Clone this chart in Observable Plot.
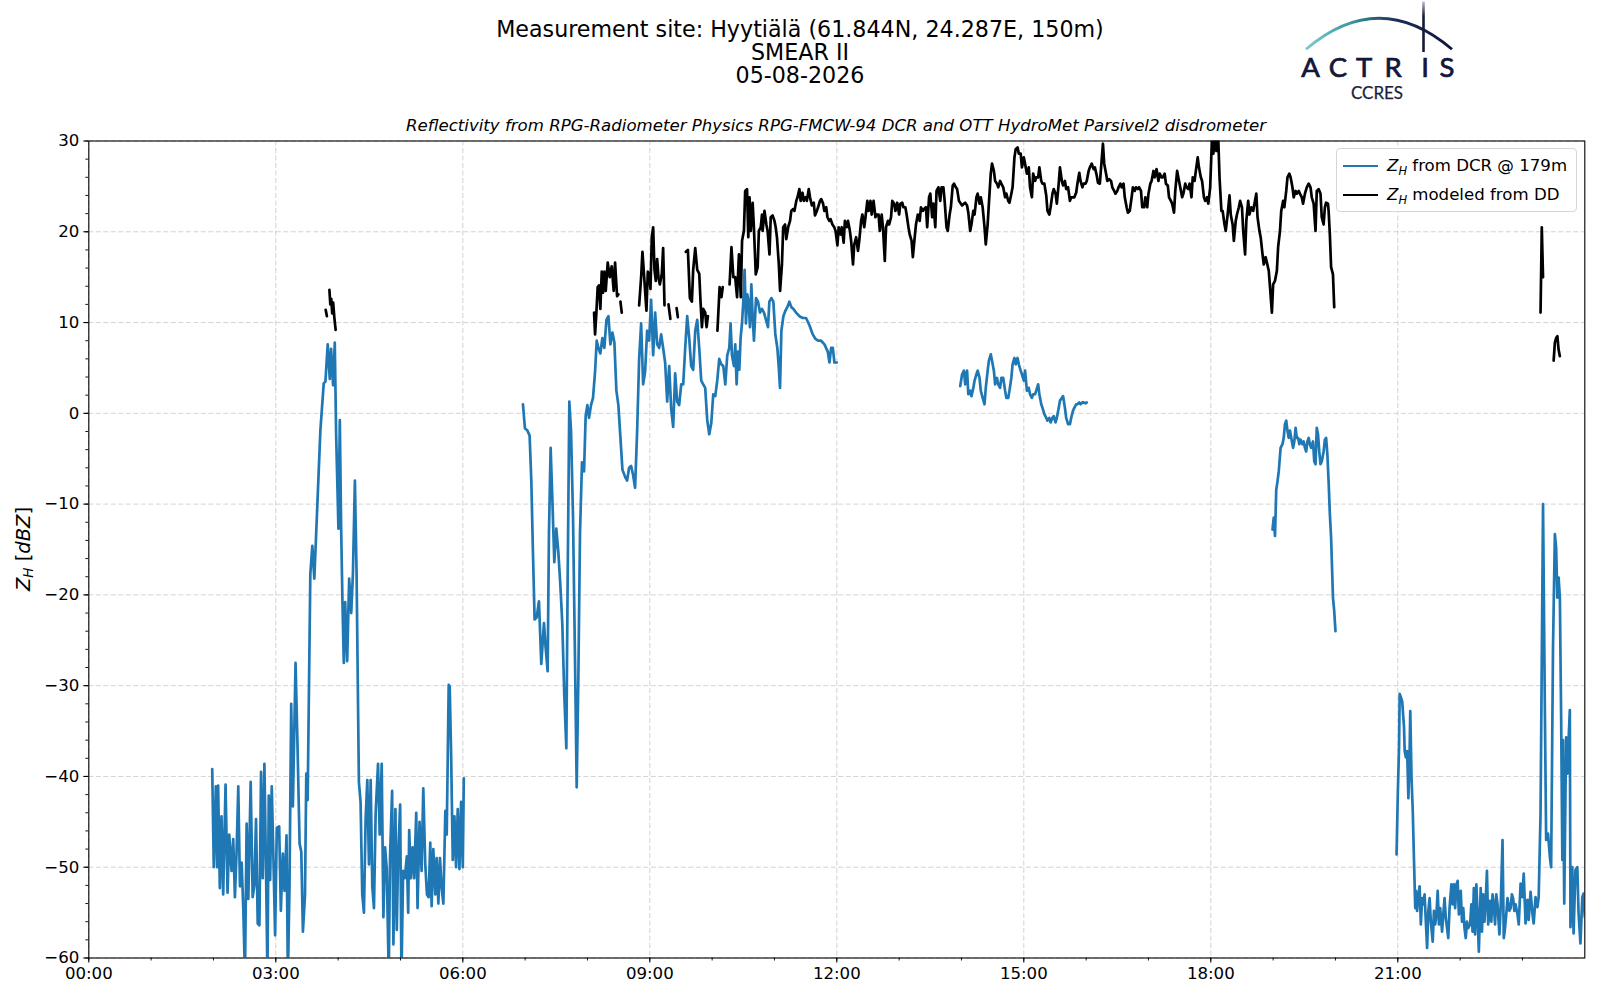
<!DOCTYPE html>
<html><head><meta charset="utf-8">
<script src="https://cdn.jsdelivr.net/npm/d3@7"></script>
<script src="https://cdn.jsdelivr.net/npm/@observablehq/plot@0.6"></script>
<style>
body{margin:0;background:#fff;font-family:"DejaVu Sans",sans-serif;}
#page{position:relative;width:1600px;height:1000px;overflow:hidden;background:#fff;}
#header{position:relative;width:1600px;height:130px;}
#title{position:absolute;left:0;top:17.5px;width:1600px;text-align:center;font-size:22.2px;line-height:23px;color:#000;white-space:nowrap;}
#sub{position:absolute;left:88px;width:1496px;text-align:center;font-style:italic;font-size:16.6px;line-height:19px;top:115.5px;white-space:nowrap;}
#logo{position:absolute;left:0;top:0;}
#legend{position:absolute;left:1336px;top:148px;width:241px;height:64px;box-sizing:border-box;border:1px solid #d6d6d6;border-radius:4px;background:rgba(255,255,255,0.85);font-size:16.6px;}
.lr{position:absolute;left:0;height:20px;width:240px;}
.ls{position:absolute;left:6px;top:8.8px;width:35px;height:2.6px;}
.lt{position:absolute;left:50px;top:0;line-height:20px;white-space:nowrap;}
.lt i{font-style:italic;}
.lt sub{font-style:italic;font-size:11.5px;vertical-align:-3.5px;line-height:0;}
</style>
</head><body>
<div id="page">
  <div id="header">
    <div id="title">Measurement site: Hyytiälä (61.844N, 24.287E, 150m)<br>SMEAR II<br>05-08-2026</div>
    <svg id="logo" width="1600" height="130">
      <defs>
        <linearGradient id="arcg" gradientUnits="userSpaceOnUse" x1="1306" y1="0" x2="1452" y2="0">
          <stop offset="0" stop-color="#7ccdc7"/>
          <stop offset="0.3" stop-color="#3a9aa2"/>
          <stop offset="0.62" stop-color="#1b2c57"/>
          <stop offset="1" stop-color="#111638"/>
        </linearGradient>
        <linearGradient id="vlg" gradientUnits="userSpaceOnUse" x1="0" y1="1" x2="0" y2="52">
          <stop offset="0" stop-color="#141938" stop-opacity="0.25"/>
          <stop offset="0.3" stop-color="#141938" stop-opacity="1"/>
          <stop offset="1" stop-color="#141938" stop-opacity="1"/>
        </linearGradient>
      </defs>
      <path d="M1306,49.3 Q1379,-12.7 1452,49.3" fill="none" stroke="url(#arcg)" stroke-width="2.8"/>
      <line x1="1423.5" y1="1.5" x2="1423.5" y2="52" stroke="url(#vlg)" stroke-width="2.6"/>
      <g font-family="Lato, 'Noto Sans', sans-serif" font-size="27.5" fill="#12163a" stroke="#12163a" stroke-width="0.7" text-anchor="middle">
        <text x="1310.5" y="76.7">A</text>
        <text x="1338" y="76.7">C</text>
        <text x="1364" y="76.7">T</text>
        <text x="1393" y="76.7">R</text>
        <text x="1425" y="76.7">I</text>
        <text x="1447" y="76.7">S</text>
      </g>
      <text x="1377" y="99.3" font-family="Lato, 'Noto Sans', sans-serif" font-size="17" fill="#1a1f3d" stroke="#1a1f3d" stroke-width="0.25" text-anchor="middle">CCRES</text>
    </svg>
    <div id="sub">Reflectivity from RPG-Radiometer Physics RPG-FMCW-94 DCR and OTT HydroMet Parsivel2 disdrometer</div>
  </div>
  <div id="chart"></div>
  <div id="legend">
    <div class="lr" style="top:7px"><div class="ls" style="background:#1f77b4"></div><div class="lt"><i>Z</i><sub>H</sub> from DCR @ 179m</div></div>
    <div class="lr" style="top:36px"><div class="ls" style="background:#000"></div><div class="lt"><i>Z</i><sub>H</sub> modeled from DD</div></div>
  </div>
</div>
<script>
// ---- tick definitions ----
const xMajor = [0, 3, 6, 9, 12, 15, 18, 21];
const xMinor = d3.range(0, 24, 1);
const yMajor = [-60, -50, -40, -30, -20, -10, 0, 10, 20, 30];
const yMinor = d3.range(-60, 31, 2);
const xTickLabels = ["00:00", "03:00", "06:00", "09:00", "12:00", "15:00", "18:00", "21:00"];

// ---- DCR reflectivity at 179 m: [hour, dBZ] ----
const dcrSeg1 = [[1.98,-39.2],[2.005,-50],[2.038,-41.1],[2.059,-50],[2.075,-41],[2.102,-52.3],[2.129,-44.4],[2.156,-53],[2.194,-40.9],[2.226,-52.8],[2.253,-46.4],[2.29,-50.4],[2.317,-46.9],[2.344,-53.3],[2.371,-48.3],[2.398,-41.1],[2.425,-52.1],[2.452,-49.5],[2.478,-54.5],[2.505,-62],[2.532,-45.2],[2.559,-53.5],[2.597,-40.6],[2.629,-53.3],[2.656,-52],[2.683,-44.7],[2.71,-56.2],[2.737,-56.4],[2.763,-39.5],[2.79,-51.2],[2.817,-38.6],[2.844,-50.7],[2.866,-62],[2.887,-42.1],[2.909,-51.4],[2.935,-41.1],[2.962,-49],[2.989,-57.5],[3.016,-45.7],[3.054,-45.5],[3.081,-54.8],[3.113,-48.5],[3.14,-52.6],[3.172,-46.5],[3.194,-62],[3.22,-52.1],[3.247,-32],[3.274,-43.3],[3.317,-27.5],[3.349,-36.8],[3.382,-47.4],[3.409,-48.3],[3.435,-57.1],[3.468,-53.1],[3.489,-39.7],[3.511,-42.6],[3.554,-17.7],[3.586,-14.6],[3.618,-18.2],[3.661,-11],[3.715,-1.9],[3.769,3.3],[3.796,3.5],[3.833,7.6],[3.866,3.8],[3.887,7.1],[3.919,3.1],[3.946,7.8],[3.968,-2.4],[4.005,-12.7],[4.027,-0.75],[4.048,-12.5],[4.07,-21],[4.091,-27.5],[4.113,-20.8],[4.145,-27.3],[4.177,-18.2],[4.21,-22],[4.237,-17.7],[4.269,-7.4],[4.296,-17.7],[4.333,-40.6],[4.36,-42.8],[4.387,-53],[4.414,-55],[4.441,-44.7],[4.468,-40.4],[4.495,-49.7],[4.522,-40.4],[4.548,-52.1],[4.575,-54.5],[4.602,-44],[4.64,-38.6],[4.667,-46.4],[4.699,-38.6],[4.726,-55.5],[4.753,-47.8],[4.78,-50.2],[4.812,-62],[4.833,-48.8],[4.866,-41.6],[4.887,-58.5],[4.919,-43.6],[4.941,-56.9],[4.962,-48.8],[4.995,-43.1],[5.016,-62],[5.043,-50.4],[5.07,-51.2],[5.102,-48.8],[5.124,-55],[5.14,-45.9],[5.167,-51.2],[5.194,-47.8],[5.22,-51.2],[5.253,-44],[5.274,-54.5],[5.306,-45],[5.339,-50.4],[5.366,-41.3],[5.398,-49.7],[5.425,-53],[5.452,-53.3],[5.478,-47.3],[5.5,-54.3],[5.527,-48],[5.559,-53],[5.581,-49],[5.608,-54],[5.634,-49],[5.661,-52.3],[5.688,-54],[5.72,-43.8],[5.742,-46.4],[5.774,-29.9],[5.79,-30.1],[5.812,-37.3],[5.839,-49.2],[5.866,-44.4],[5.892,-50],[5.919,-43.6],[5.946,-50.2],[5.973,-42.8],[6.0,-50],[6.016,-40.2]];
const dcrSeg2 = [[6.965,1.0],[6.997,-1.67],[7.034,-1.87],[7.072,-2.46],[7.099,-7.37],[7.125,-15.2],[7.152,-22.7],[7.184,-22.5],[7.222,-20.7],[7.259,-27.6],[7.302,-23.1],[7.329,-25.8],[7.361,-28.4],[7.382,-13.3],[7.409,-3.8],[7.436,-9.3],[7.468,-16.4],[7.5,-12.7],[7.532,-15.2],[7.564,-18.8],[7.596,-23.1],[7.628,-31],[7.661,-36.9],[7.682,-18.4],[7.709,1.3],[7.736,-1.9],[7.768,-11.3],[7.8,-27],[7.827,-41.2],[7.854,-29],[7.88,-13.3],[7.912,-5.4],[7.945,-6.4],[7.971,-0.3],[7.998,0.9],[8.025,-0.5],[8.057,0.9],[8.089,1.7],[8.122,4.6],[8.148,8.0],[8.175,7.2],[8.207,6.6],[8.239,8.3],[8.271,7.2],[8.304,10.3],[8.336,10.7],[8.368,7.6],[8.4,8.9],[8.432,7.8],[8.464,2.5],[8.496,0.9],[8.529,-2.7],[8.561,-6.2],[8.604,-7.0],[8.636,-7.4],[8.668,-6],[8.7,-5.8],[8.732,-6.8],[8.764,-8.2],[8.797,-1.9],[8.829,6],[8.861,9.9],[8.893,3.2],[8.925,4.6],[8.957,9.1],[8.989,8],[9.021,12.5],[9.054,6.4],[9.086,11.1],[9.118,7.6],[9.15,7.2],[9.182,8.7],[9.214,7.2],[9.246,5.6],[9.279,1.3],[9.311,5.2],[9.343,0.5],[9.375,-1.5],[9.407,4.4],[9.439,1.3],[9.471,0.9],[9.504,3.2],[9.536,3.2],[9.568,7.2],[9.6,10.7],[9.632,8.3],[9.664,5.2],[9.696,4.8],[9.729,9.1],[9.761,10.3],[9.793,7.2],[9.825,3.6],[9.857,3.2],[9.889,2.8],[9.921,-0.7],[9.954,-2.3],[9.986,-1.1],[10.018,2.1],[10.05,1.9],[10.082,3.6],[10.114,6],[10.146,5.4],[10.179,5.2],[10.211,3.2],[10.243,6.4],[10.275,7.2],[10.296,9.9],[10.318,6.4],[10.35,5.2],[10.371,7.6],[10.393,3.2],[10.414,6.8],[10.436,4.8],[10.457,8.3],[10.479,9.9],[10.5,12.3],[10.521,15.8],[10.543,9.9],[10.564,13.1],[10.586,12.3],[10.607,9.5],[10.629,14.2],[10.65,10.7],[10.671,8],[10.704,12.7],[10.736,12.3],[10.768,11.1],[10.8,11.5],[10.832,11.1],[10.864,10.3],[10.896,9.5],[10.918,12.3],[10.95,12.7],[10.982,12.3],[11.014,8.7],[11.046,7.2],[11.068,5.2],[11.089,2.8],[11.111,9.1],[11.143,10.7],[11.175,11.3],[11.207,11.7],[11.239,12.3],[11.271,11.7],[11.304,11.5],[11.346,11.1],[11.4,10.7],[11.454,10.5],[11.507,10.5],[11.561,9.7],[11.614,8.7],[11.657,8.2],[11.7,8.0],[11.748,8.0],[11.802,7.6],[11.855,6.8],[11.882,5.6],[11.909,7.2],[11.936,7.2],[11.962,5.6],[12.0,5.6]];
const dcrSeg3 = [[13.98,3.0],[14.01,4.3],[14.04,4.7],[14.06,3.2],[14.09,4.7],[14.11,2.1],[14.14,2.5],[14.16,1.9],[14.19,2.8],[14.21,3.6],[14.24,4.3],[14.26,4.7],[14.29,3.9],[14.31,2.5],[14.34,1.7],[14.37,1.0],[14.39,2.8],[14.42,4.7],[14.44,5.8],[14.47,6.5],[14.49,5.8],[14.52,4.7],[14.54,3.2],[14.57,3.9],[14.59,3.2],[14.62,2.8],[14.64,3.9],[14.67,3.9],[14.7,2.5],[14.72,1.7],[14.75,1.7],[14.77,2.5],[14.8,3.9],[14.82,5.4],[14.85,6.1],[14.87,5.4],[14.9,6.1],[14.92,5.4],[14.95,4.7],[14.97,4.3],[15.0,3.6],[15.02,4.7],[15.05,2.5],[15.08,2.8],[15.1,2.1],[15.13,1.7],[15.15,2.1],[15.18,2.1],[15.2,2.5],[15.23,3.2],[15.25,2.1],[15.28,1.0],[15.3,0.6],[15.33,-0.1],[15.36,-0.5],[15.38,-0.8],[15.41,-0.5],[15.43,-1.0],[15.46,-0.5],[15.48,-0.3],[15.51,-1.0],[15.53,-0.5],[15.56,0.6],[15.58,1.4],[15.61,1.7],[15.63,1.9],[15.66,0.6],[15.68,-0.5],[15.71,-1.2],[15.74,-1.2],[15.76,-0.5],[15.79,0.3],[15.81,0.6],[15.84,1.0],[15.86,1.0],[15.89,1.2],[15.91,1.0],[15.94,1.2],[15.96,1.2],[15.99,1.1],[16.01,1.2]];
const dcrSeg4 = [[18.99,-12.8],[19.01,-11.5],[19.03,-13.5],[19.05,-8.4],[19.07,-7.5],[19.09,-6.4],[19.12,-3.8],[19.15,-3.4],[19.17,-2.7],[19.19,-1.2],[19.21,-0.8],[19.23,-1.9],[19.25,-2.7],[19.27,-1.9],[19.29,-2.7],[19.32,-3.8],[19.34,-3.1],[19.36,-1.6],[19.38,-2.7],[19.4,-2.7],[19.42,-3.4],[19.44,-2.9],[19.47,-3.4],[19.49,-3.1],[19.51,-3.8],[19.53,-4.2],[19.55,-3.1],[19.57,-2.7],[19.59,-3.4],[19.61,-3.8],[19.64,-3.1],[19.66,-5.3],[19.68,-5.6],[19.7,-1.6],[19.72,-2.3],[19.74,-4.2],[19.76,-5.6],[19.78,-5.3],[19.81,-4.2],[19.83,-2.9],[19.85,-2.7],[19.87,-4.5],[19.89,-7.5],[19.91,-11.1],[19.93,-13.7],[19.96,-20.3],[19.98,-21.8],[20.0,-24]];
const dcrSeg5 = [[20.98,-48.6],[21.0,-41.9],[21.02,-36.8],[21.03,-30.9],[21.05,-31.3],[21.07,-31.7],[21.1,-34.6],[21.11,-37.2],[21.13,-37.9],[21.15,-37.2],[21.17,-42.4],[21.19,-37.2],[21.2,-32.8],[21.22,-40.1],[21.24,-43.8],[21.26,-49.3],[21.28,-54.5],[21.29,-52.6],[21.31,-54.8],[21.33,-53],[21.35,-52.1],[21.37,-56.3],[21.39,-53.4],[21.41,-54.1],[21.43,-53],[21.45,-56],[21.47,-58.9],[21.49,-54.8],[21.51,-53.4],[21.53,-56],[21.56,-58.2],[21.58,-54.8],[21.6,-56.3],[21.62,-55.2],[21.64,-52.6],[21.66,-56.3],[21.68,-54.5],[21.71,-57.1],[21.73,-55.2],[21.75,-53.4],[21.77,-55.6],[21.79,-56.7],[21.81,-57.8],[21.83,-54.5],[21.86,-51.9],[21.88,-54.1],[21.9,-51.9],[21.92,-54.5],[21.94,-51.9],[21.96,-51.5],[21.98,-55.2],[22.01,-52.6],[22.03,-56],[22.05,-54.5],[22.07,-56.7],[22.09,-57.8],[22.11,-56],[22.13,-56.7],[22.16,-56.3],[22.18,-54.1],[22.2,-57.1],[22.22,-52.3],[22.24,-57.4],[22.26,-51.9],[22.28,-55.2],[22.3,-59.3],[22.33,-52.3],[22.35,-57.1],[22.37,-53],[22.39,-56],[22.41,-53.7],[22.43,-50.4],[22.45,-56.3],[22.48,-53.7],[22.5,-56],[22.52,-53],[22.54,-54.1],[22.56,-56.3],[22.58,-53],[22.6,-54.1],[22.63,-57.4],[22.65,-54.5],[22.68,-47],[22.7,-57.8],[22.72,-56.7],[22.74,-55.2],[22.76,-53.4],[22.79,-54.8],[22.81,-54.5],[22.83,-53],[22.85,-53.4],[22.87,-54.8],[22.89,-54.1],[22.92,-55.2],[22.94,-56.3],[22.97,-51.8],[23.0,-53.3],[23.02,-50.7],[23.05,-56.2],[23.08,-53.6],[23.1,-55.8],[23.13,-52.7],[23.16,-55.1],[23.18,-56.2],[23.21,-53.3],[23.24,-54.4],[23.26,-53.3],[23.29,-44.1],[23.33,-10],[23.36,-33.1],[23.38,-47],[23.41,-46.3],[23.44,-48.9],[23.46,-50],[23.49,-25.8],[23.52,-13.3],[23.54,-14.8],[23.56,-20.3],[23.58,-18.1],[23.6,-20.3],[23.62,-33.1],[23.64,-49.2],[23.65,-36],[23.67,-54],[23.7,-35.7],[23.72,-39.7],[23.74,-36],[23.76,-32.7],[23.77,-56.6],[23.8,-50],[23.82,-57.3],[23.85,-50.3],[23.88,-50],[23.9,-55.1],[23.93,-58.4],[23.96,-53.3],[23.98,-52.9],[24.0,-55.5]];

// ---- Z_H modeled from disdrometer: [hour, dBZ] ----
const ddSeg1 = [[3.80,11.4],[3.82,10.7]];
const ddSeg2 = [[3.86,13.6],[3.875,12.0],[3.89,12.6],[3.905,11.0],[3.92,12.2],[3.94,10.5],[3.96,9.2]];
const ddSeg3 = [[8.106,11.1],[8.122,8.7],[8.143,11.1],[8.164,13.9],[8.186,14.1],[8.207,11.5],[8.229,15.6],[8.25,13.3],[8.271,15.6],[8.293,13.5],[8.325,16.6],[8.357,15],[8.389,16.2],[8.421,13.5],[8.443,16.6],[8.475,12.9],[8.496,13.1]];
const ddSeg4 = [[8.529,12.3],[8.55,11.1]];
const ddSeg5 = [[8.829,11.9],[8.861,15.0],[8.882,17.8],[8.914,14.6],[8.946,11.3],[8.968,15.6],[8.989,15.4],[9.011,13.7],[9.032,19.4],[9.054,20.5],[9.075,15.8],[9.096,14.6],[9.118,17],[9.139,15],[9.161,14.2],[9.193,15.4],[9.214,18.2],[9.236,11.9]];
const ddSeg6 = [[9.30,12.0],[9.33,10.4]];
const ddSeg7 = [[9.43,11.6],[9.45,10.6]];
const ddSeg8 = [[9.578,17.8],[9.611,18],[9.643,12.7],[9.675,12.3],[9.696,15.8],[9.729,18.2],[9.761,15.8],[9.793,15.4],[9.814,12.3],[9.836,9.5],[9.857,11.5],[9.889,11.1],[9.911,9.5],[9.932,10.7]];
const ddSeg9 = [[10.085,9.1],[10.12,13.9],[10.15,12.8],[10.17,13.9]];
const ddSeg10 = [[10.28,14.2],[10.31,18.3],[10.34,15],[10.37,15],[10.40,12.8],[10.43,17.5],[10.46,12.8],[10.48,19],[10.51,20.1],[10.53,24.5],[10.56,24.7],[10.58,19.4],[10.60,23.8],[10.62,20.1],[10.65,23.2],[10.67,20.5],[10.70,15.3],[10.73,16.1],[10.75,20.1],[10.78,20.5],[10.80,21.9],[10.81,20.1],[10.84,22.3],[10.87,20.8],[10.89,20.1],[10.92,17.5],[10.94,21.6],[10.97,21.8],[11.00,21.2],[11.02,20.5],[11.04,19.4],[11.07,16.4],[11.09,13.5],[11.12,16.4],[11.14,20.5],[11.17,20.8],[11.19,19.2],[11.22,20.5],[11.25,21.2],[11.27,22.3],[11.30,22.5],[11.32,22.3],[11.35,23.4],[11.37,23.8],[11.40,24.7],[11.42,23.4],[11.45,24.3],[11.47,23.4],[11.50,23.8],[11.52,23.4],[11.55,24.7],[11.57,23.8],[11.60,22.9],[11.63,23.2],[11.65,21.8],[11.68,22.3],[11.70,22.7],[11.73,23.4],[11.75,23.6],[11.78,23.1],[11.80,22.3],[11.83,22.7],[11.85,21.6],[11.88,21.2],[11.90,21.4],[11.93,20.8],[11.96,20.5],[11.98,20.1],[12.01,18.5],[12.03,20.5],[12.06,19.7],[12.08,20.5],[12.11,18.8],[12.13,21.2],[12.16,20.5],[12.18,21.2],[12.21,20.1],[12.23,19],[12.26,16.4],[12.28,18.6],[12.31,19.4],[12.34,17.9],[12.36,19],[12.39,21.2],[12.41,21.9],[12.44,20.5],[12.46,21.6],[12.49,23.4],[12.51,22.3],[12.54,23.4],[12.56,21.9],[12.59,23.4],[12.62,21.6],[12.64,21.9],[12.67,21.9],[12.69,20.1],[12.72,21.9],[12.74,20.5],[12.77,16.8],[12.79,20.5],[12.82,21.2],[12.84,20.8],[12.87,21.6],[12.89,23.4],[12.92,23.1],[12.94,22.3],[12.97,23.2],[13.00,21.9],[13.02,23.1],[13.05,23.2],[13.07,22.7],[13.10,22.7],[13.12,21.9],[13.15,20.5],[13.17,19.7],[13.20,19],[13.22,17.2],[13.25,19.4],[13.27,20.8],[13.30,21.9],[13.33,21.2],[13.35,22.7],[13.38,22.3],[13.40,22.5],[13.43,22.7],[13.45,20.5],[13.48,23.8],[13.50,24.2],[13.53,21.6],[13.55,23.1],[13.58,20.5],[13.60,24.5],[13.63,24.9],[13.66,23.4],[13.68,24.9],[13.71,24.9],[13.73,23.4],[13.76,20.5],[13.78,20.1],[13.81,21.9],[13.83,22.7],[13.86,25.1],[13.88,25.3],[13.91,24.9],[13.93,24.7],[13.96,23.4],[13.98,23.2],[14.01,22.9],[14.04,23.1],[14.06,23.2],[14.09,22.9],[14.11,22.1],[14.14,20.1],[14.16,20.8],[14.19,22.3],[14.21,21.9],[14.24,23.8],[14.26,24.2],[14.29,23.1],[14.31,23.8],[14.34,22.7],[14.37,20.5],[14.39,18.6],[14.42,20.8],[14.44,23.1],[14.47,26.4],[14.49,27.5],[14.52,26.7],[14.54,25.6],[14.57,25.3],[14.59,24.9],[14.62,25.6],[14.64,25.3],[14.67,24.9],[14.70,23.8],[14.72,24.2],[14.75,23.4],[14.77,23.2],[14.80,24.2],[14.82,24.9],[14.85,28.2],[14.87,29.1],[14.90,29.3],[14.92,28.6],[14.95,28.6],[14.97,27.1],[15.00,28.2],[15.02,27.5],[15.05,26.4],[15.08,27.1],[15.10,24.9],[15.13,23.8],[15.15,26.4],[15.18,25.6],[15.20,26],[15.23,26],[15.25,27.1],[15.28,25.6],[15.30,25.3],[15.33,25.3],[15.36,24],[15.38,22.3],[15.41,21.9],[15.43,22.7],[15.46,24.2],[15.48,24.7],[15.51,24.2],[15.53,23.1],[15.56,25.3],[15.58,27.1],[15.61,25.6],[15.63,25.1],[15.66,25.6],[15.68,24.7],[15.71,24.9],[15.74,23.4],[15.76,23.8],[15.79,23.8],[15.81,23.8],[15.84,24.3],[15.86,25.3],[15.89,26.5],[15.91,25.6],[15.94,24.9],[15.96,25.3],[15.99,25.3],[16.01,25.6],[16.04,26.7],[16.06,27.1],[16.09,27.5],[16.12,26.9],[16.14,27.1],[16.17,26.2],[16.19,25.4],[16.22,25.3],[16.24,27.1],[16.27,29.7],[16.29,27.5],[16.32,26.4],[16.34,25.6],[16.37,25.8],[16.40,25.6],[16.42,24.9],[16.45,24.5],[16.47,24.2],[16.50,24.5],[16.52,24.9],[16.55,25.3],[16.57,24.9],[16.60,25.3],[16.62,23.8],[16.65,22.7],[16.67,22.1],[16.70,22.3],[16.73,23.8],[16.75,24.9],[16.78,24.5],[16.80,24.9],[16.83,24.7],[16.85,24.9],[16.88,24.5],[16.90,22.7],[16.93,22.7],[16.95,23.8],[16.98,22.7],[17.00,24.2],[17.03,25.3],[17.05,25.6],[17.08,26.7],[17.10,26],[17.13,26.9],[17.16,25.6],[17.18,26.4],[17.21,26],[17.23,26],[17.26,26.4],[17.28,25.3],[17.31,25.1],[17.33,23.8],[17.36,23.4],[17.38,23.1],[17.41,22.1],[17.43,24.5],[17.46,26.7],[17.49,25.6],[17.51,24.9],[17.54,23.8],[17.56,24.2],[17.59,25.3],[17.61,24.9],[17.64,24.7],[17.66,25.3],[17.69,23.8],[17.71,26],[17.74,25.6],[17.76,26.7],[17.79,28.2],[17.81,27.1],[17.84,26],[17.86,25.6],[17.89,23.8],[17.91,23.4],[17.94,23.8],[17.96,23.1],[17.99,24.9],[18.02,30.5],[18.04,28.6],[18.07,30.2],[18.09,28.9],[18.12,30.2],[18.14,26],[18.17,22.3],[18.19,22.3],[18.22,20.8],[18.24,20.1],[18.27,21.9],[18.30,24],[18.32,21.9],[18.35,20.8],[18.37,19],[18.40,21.2],[18.42,21.9],[18.45,22.7],[18.47,23.4],[18.50,22.7],[18.52,20.1],[18.55,17.5],[18.57,21.2],[18.60,23.4],[18.62,21.9],[18.65,22.7],[18.68,22.3],[18.70,23.1],[18.73,24.2],[18.75,21.6],[18.78,20.1],[18.80,19.4],[18.83,17.5],[18.85,16.4],[18.88,17.2],[18.90,16.6],[18.93,15.7],[18.95,13.9],[18.98,11.1],[19.00,14.2],[19.03,14.6],[19.06,15.7],[19.08,18.3],[19.11,20.1],[19.13,22.3],[19.16,23.4],[19.18,22.7],[19.21,24.5],[19.23,26],[19.26,26.4],[19.28,26],[19.31,24.9],[19.33,23.8],[19.36,24.5],[19.38,24.2],[19.41,24.5],[19.43,24.2],[19.46,23.8],[19.48,23.1],[19.51,24.2],[19.54,24.9],[19.57,25.3],[19.60,24.9],[19.62,23.8],[19.65,23.1],[19.68,20.1],[19.70,24.5],[19.73,24.7],[19.76,24.2],[19.78,21.6],[19.81,20.8],[19.83,22.7],[19.85,23.2],[19.88,23.1],[19.89,22.3],[19.91,19.7],[19.93,16.1],[19.96,15.3],[19.98,11.7]];
const ddSeg11 = [[23.29,11.1],[23.31,20.5],[23.33,15.0]];
const ddSeg12 = [[23.50,5.8],[23.52,7.8],[23.54,8.3],[23.56,8.5],[23.58,7.0],[23.60,6.3]];

// ---- build tables ----
function toRows(segs) {
  const rows = [];
  segs.forEach((seg, i) => seg.forEach(([t, v]) => rows.push({t, v, seg: i})));
  return rows;
}
const dcrRows = toRows([dcrSeg1, dcrSeg2, dcrSeg3, dcrSeg4, dcrSeg5]);
const ddRows = toRows([ddSeg1, ddSeg2, ddSeg3, ddSeg4, ddSeg5, ddSeg6, ddSeg7, ddSeg8, ddSeg9, ddSeg10, ddSeg11, ddSeg12]);

const gridStyle = {stroke: "#c8c8c8", strokeOpacity: 1, strokeWidth: 0.8, strokeDasharray: "5,2.5"};

const chart = Plot.plot({
  width: 1600,
  height: 870,
  marginTop: 10.5,
  marginBottom: 42.5,
  marginLeft: 88.3,
  marginRight: 15.7,
  style: {fontFamily: "DejaVu Sans, sans-serif", fontSize: "16.6px", color: "#000", background: "#fff", overflow: "visible"},
  x: {domain: [0, 24], label: null},
  y: {domain: [-60, 30], label: null},
  marks: [
    Plot.gridX({...gridStyle, ticks: xMajor}),
    Plot.gridY({...gridStyle, ticks: yMajor}),
    Plot.line(dcrRows, {x: "t", y: "v", z: "seg", stroke: "#1f77b4", strokeWidth: 2.7, clip: true}),
    Plot.line(ddRows, {x: "t", y: "v", z: "seg", stroke: "#000", strokeWidth: 2.7, clip: true}),
    Plot.axisX({ticks: xMinor, tickSize: 3, tickFormat: () => "", label: null, strokeWidth: 0.9}),
    Plot.axisX({ticks: xMajor, tickSize: 5, tickPadding: 4, tickFormat: (d) => xTickLabels[xMajor.indexOf(d)], label: null, strokeWidth: 1.1}),
    Plot.axisY({ticks: yMinor, tickSize: 3, tickFormat: () => "", label: null, strokeWidth: 0.9}),
    Plot.axisY({ticks: yMajor, tickSize: 5, tickPadding: 4.5, label: null, strokeWidth: 1.1}),
    Plot.frame({stroke: "#000", strokeWidth: 1.1})
  ]
});
chart.style.display = "block";
document.getElementById("chart").appendChild(chart);

// y-axis label with subscript
const svg = d3.select(chart);
const yl = svg.append("text")
  .attr("transform", `translate(22.5,${(10.5 + 827.5) / 2}) rotate(-90)`)
  .attr("text-anchor", "middle")
  .attr("dominant-baseline", "central")
  .attr("fill", "#000")
  .style("font-size", "19.5px")
  .style("font-family", "DejaVu Sans, sans-serif");
yl.append("tspan").attr("font-style", "italic").text("Z");
yl.append("tspan").attr("font-style", "italic").attr("font-size", "13.5px").attr("dy", "5").text("H");
yl.append("tspan").attr("dy", "-5").text(" [");
yl.append("tspan").attr("font-style", "italic").text("dBZ");
yl.append("tspan").text("]");
</script>
</body></html>
